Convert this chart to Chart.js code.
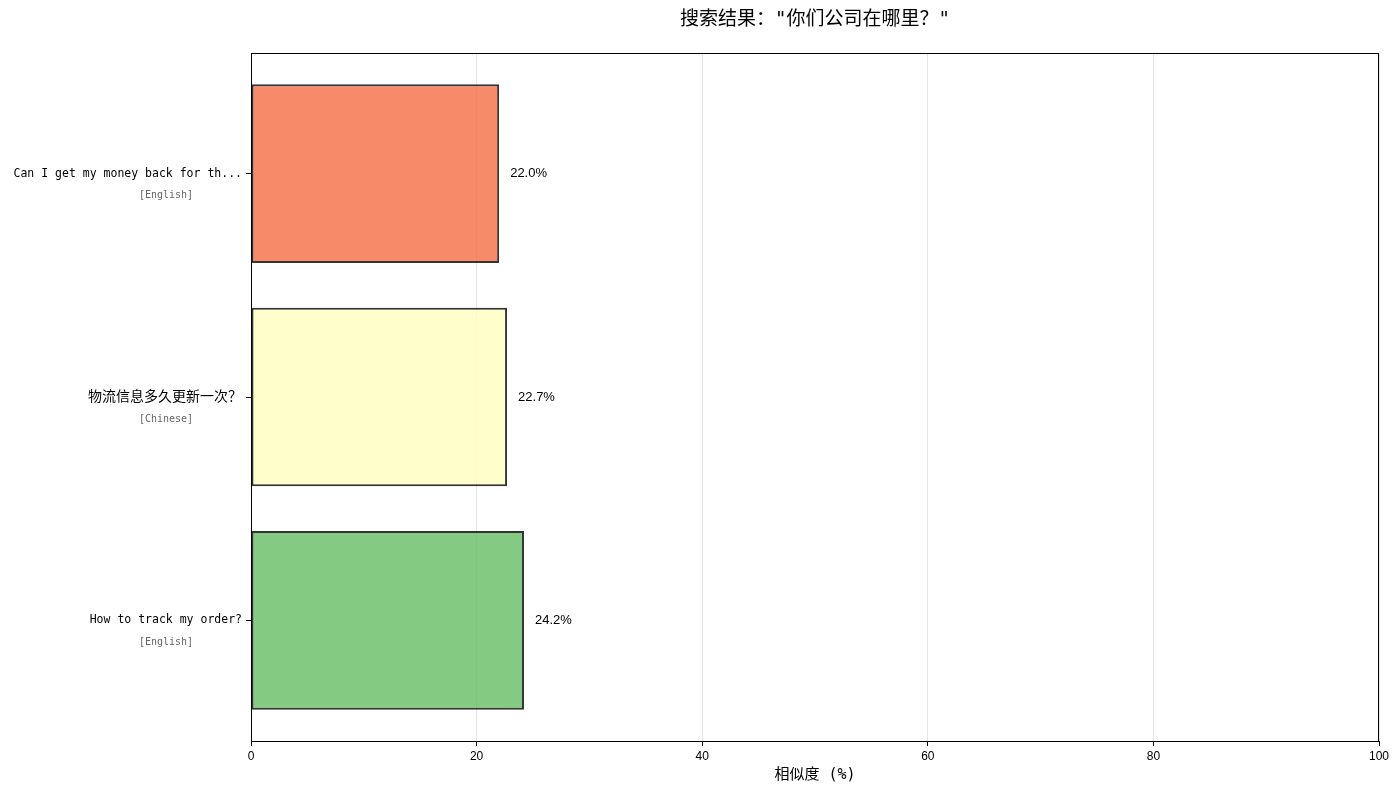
<!DOCTYPE html>
<html>
<head>
<meta charset="utf-8">
<script src="https://cdn.jsdelivr.net/npm/chart.js@4.4.1/dist/chart.umd.min.js"></script>
<style>
  html, body { margin: 0; padding: 0; background: #fff; }
  #wrap { width: 1400px; height: 794px; }
</style>
</head>
<body>
<div id="wrap"><canvas id="myChart"></canvas></div>
<script>
const questions = ['Can I get my money back for th...', '物流信息多久更新一次？', 'How to track my order?'];
const languages = ['[English]', '[Chinese]', '[English]'];
const similarity = [22.0, 22.7, 24.2];
const barColors = ['rgba(244,109,67,0.8)', 'rgba(255,255,191,0.8)', 'rgba(102,189,99,0.8)'];
const xTicks = [0, 20, 40, 60, 80, 100];
const chartTitle = '搜索结果："你们公司在哪里？"';
const xTitle = '相似度 (%)';

const FONT = '"DejaVu Sans Mono", "Noto Sans CJK SC"';
const NUMFONT = '"Liberation Sans", "Noto Sans CJK SC"';

// title, frame, value labels and the grey language tags
const extras = {
  id: 'extras',
  afterDatasetsDraw(chart) {
    const ctx = chart.ctx;
    const meta = chart.getDatasetMeta(0);
    ctx.save();
    ctx.font = '13px ' + NUMFONT;
    ctx.fillStyle = '#000';
    ctx.textBaseline = 'middle';
    ctx.textAlign = 'left';
    meta.data.forEach((bar, i) => {
      ctx.fillText(similarity[i].toFixed(1) + '%', bar.x + 11, bar.y);
    });
    ctx.restore();
  },
  afterDraw(chart) {
    const ctx = chart.ctx;
    const a = chart.chartArea;
    const y = chart.scales.y;
    ctx.save();
    ctx.strokeStyle = '#000';
    ctx.lineWidth = 1;
    ctx.strokeRect(Math.round(a.left) + 0.5, Math.round(a.top) + 0.5,
      Math.round(a.right - a.left) - 1, Math.round(a.bottom - a.top));

    ctx.font = '10px ' + FONT;
    ctx.fillStyle = '#666';
    ctx.textAlign = 'center';
    ctx.textBaseline = 'middle';
    languages.forEach((lang, i) => {
      ctx.fillText(lang, 166, y.getPixelForValue(i) + 22);
    });

    ctx.font = '19px ' + FONT;
    ctx.fillStyle = '#000';
    ctx.fillText(chartTitle, (a.left + a.right) / 2, 20);
    ctx.restore();
  }
};

const ctx = document.getElementById('myChart').getContext('2d');

new Chart(ctx, {
  type: 'bar',
  data: {
    datasets: [{
      data: similarity.map((v, i) => ({ x: v, y: i })),
      backgroundColor: barColors,
      borderColor: 'rgba(0,0,0,0.8)',
      borderWidth: 2,
      borderSkipped: false,
      barPercentage: 0.8,
      categoryPercentage: 1.0
    }]
  },
  plugins: [extras],
  options: {
    indexAxis: 'y',
    responsive: true,
    maintainAspectRatio: false,
    animation: false,
    layout: { padding: { top: 53, right: 21, left: 0, bottom: 0 } },
    plugins: {
      legend: { display: false },
      tooltip: { enabled: false }
    },
    scales: {
      x: {
        type: 'linear',
        min: 0,
        max: 100,
        afterBuildTicks: (scale) => { scale.ticks = xTicks.map(v => ({ value: v })); },
        afterFit: (scale) => { scale.height = 53; },
        grid: { color: '#e6e6e6', lineWidth: 1, tickColor: '#000', tickLength: 5 },
        border: { color: '#000', width: 1 },
        ticks: { color: '#000', padding: 3, font: { family: NUMFONT, size: 12 } },
        title: {
          display: true,
          text: xTitle,
          color: '#000',
          font: { family: FONT, size: 15 },
          padding: { top: 0, bottom: 10 }
        }
      },
      y: {
        type: 'linear',
        reverse: true,
        offset: false,
        min: -0.54,
        max: 2.54,
        afterBuildTicks: (scale) => { scale.ticks = questions.map((q, i) => ({ value: i })); },
        afterFit: (scale) => { scale.width = 251; },
        grid: { offset: false, drawOnChartArea: false, tickColor: '#000', tickLength: 5 },
        border: { color: '#000', width: 1 },
        ticks: {
          color: '#000',
          padding: 4,
          callback: (v) => questions[v],
          font: (c) => ({
            family: FONT,
            size: /[\u4e00-\u9fff]/.test(questions[c.index] || '') ? 14 : 11.5
          })
        }
      }
    }
  }
});
</script>
</body>
</html>
